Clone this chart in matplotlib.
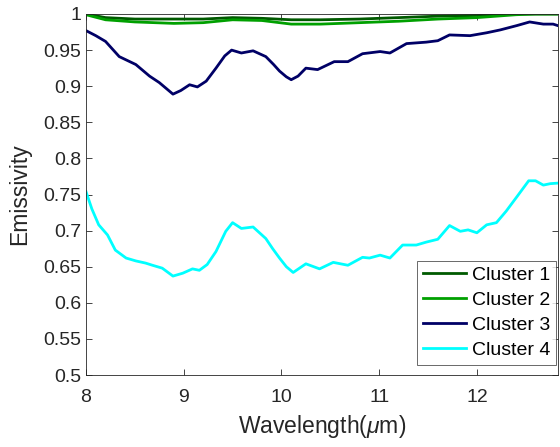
import numpy as np
import matplotlib
matplotlib.use("Agg")
import matplotlib.pyplot as plt

plt.rcParams['font.family'] = ['Liberation Sans', 'DejaVu Sans']
plt.rcParams['mathtext.fontset'] = 'custom'
plt.rcParams['mathtext.it'] = 'Liberation Sans:italic'
plt.rcParams['mathtext.rm'] = 'Liberation Sans'

# wavelength samples (um) and emissivity
wl_c12 = [8.0, 8.2, 8.5, 8.9, 9.2, 9.5, 9.8, 10.1, 10.4, 10.8, 11.2, 11.6, 12.0, 12.4, 12.6, 12.85]
c1 = [1.0, 0.995, 0.993, 0.993, 0.993, 0.995, 0.994, 0.992, 0.992, 0.993, 0.995, 0.997, 0.998, 1.0, 1.0, 1.0]
c2 = [0.999, 0.992, 0.989, 0.987, 0.988, 0.992, 0.991, 0.986, 0.986, 0.988, 0.990, 0.993, 0.995, 0.999, 1.0, 1.0]

wl_c3 = [8.0, 8.1, 8.2, 8.34, 8.51, 8.65, 8.75, 8.82, 8.89, 8.97, 9.06, 9.14, 9.23,
         9.33, 9.42, 9.49, 9.59, 9.71, 9.84, 9.92, 9.98, 10.05, 10.10, 10.17, 10.25,
         10.37, 10.54, 10.68, 10.83, 11.01, 11.11, 11.28, 11.48, 11.60, 11.72, 11.93,
         12.10, 12.24, 12.41, 12.54, 12.68, 12.78, 12.85]
c3 = [0.977, 0.970, 0.962, 0.941, 0.930, 0.914, 0.905, 0.897, 0.889, 0.894, 0.902,
      0.899, 0.907, 0.925, 0.942, 0.950, 0.946, 0.949, 0.941, 0.930, 0.921, 0.913,
      0.909, 0.914, 0.925, 0.923, 0.934, 0.934, 0.945, 0.948, 0.946, 0.959, 0.961,
      0.963, 0.971, 0.970, 0.974, 0.978, 0.984, 0.989, 0.986, 0.986, 0.983]

wl_c4 = [8.0, 8.06, 8.13, 8.22, 8.30, 8.41, 8.51, 8.61, 8.68, 8.78, 8.89, 8.99, 9.09, 9.16,
         9.24, 9.33, 9.43, 9.50, 9.59, 9.71, 9.84, 9.91, 9.98, 10.05, 10.12, 10.25,
         10.39, 10.53, 10.68, 10.83, 10.90, 11.01, 11.11, 11.24, 11.38, 11.48, 11.60,
         11.72, 11.83, 11.91, 12.00, 12.10, 12.20, 12.30, 12.41, 12.53, 12.60, 12.68,
         12.75, 12.85]
c4 = [0.754, 0.730, 0.708, 0.694, 0.673, 0.662, 0.658, 0.655, 0.652, 0.648, 0.637,
      0.641, 0.647, 0.645, 0.653, 0.671, 0.699, 0.711, 0.703, 0.705, 0.689, 0.675,
      0.662, 0.650, 0.642, 0.654, 0.647, 0.656, 0.652, 0.663, 0.662, 0.666, 0.662,
      0.680, 0.680, 0.684, 0.688, 0.707, 0.699, 0.701, 0.697, 0.708, 0.711, 0.727,
      0.747, 0.769, 0.769, 0.763, 0.765, 0.766]

labels = ["Cluster 1", "Cluster 2", "Cluster 3", "Cluster 4"]
colors = ["#005a00", "#00a000", "#000066", "#00ffff"]


def main():
    fig = plt.figure(figsize=(5.6, 4.47), dpi=100)
    ax = fig.add_axes([86 / 560, 1 - 375 / 447, 472 / 560, 361 / 447])

    ax.plot(wl_c12, c1, color=colors[0], lw=2, label=labels[0])
    ax.plot(wl_c12, c2, color=colors[1], lw=2, label=labels[1])
    ax.plot(wl_c3, c3, color=colors[2], lw=2, label=labels[2])
    ax.plot(wl_c4, c4, color=colors[3], lw=2, label=labels[3])

    ax.set_xlim(8, 12.83)
    ax.set_ylim(0.5, 1.0)
    ax.set_xticks([8, 9, 10, 11, 12])
    ax.set_yticks(np.arange(0.5, 1.001, 0.05))
    ax.set_yticklabels(["0.5", "0.55", "0.6", "0.65", "0.7", "0.75",
                        "0.8", "0.85", "0.9", "0.95", "1"])

    ax.tick_params(direction="in", top=True, right=True, labelsize=14,
                   colors="#262626", length=4, width=0.6)
    ax.tick_params(axis="x", pad=10)
    for sp in ax.spines.values():
        sp.set_color("#262626")
        sp.set_linewidth(0.6)

    ax.set_xlabel("Wavelength($\\mu$m)", fontsize=16.5, color="#262626", labelpad=5)
    ax.set_ylabel("Emissivity", fontsize=16.5, color="#262626", labelpad=9)

    leg = ax.legend(loc="lower right", bbox_to_anchor=(1 - 2 / 472, 10 / 361),
                    fontsize=14, frameon=True, fancybox=False,
                    edgecolor="#262626", handlelength=2.2, handletextpad=0.3,
                    borderpad=0.3, labelspacing=0.38, borderaxespad=0)
    leg.get_frame().set_linewidth(0.6)

    fig.savefig("out.png", dpi=100)


if __name__ == "__main__":
    main()
